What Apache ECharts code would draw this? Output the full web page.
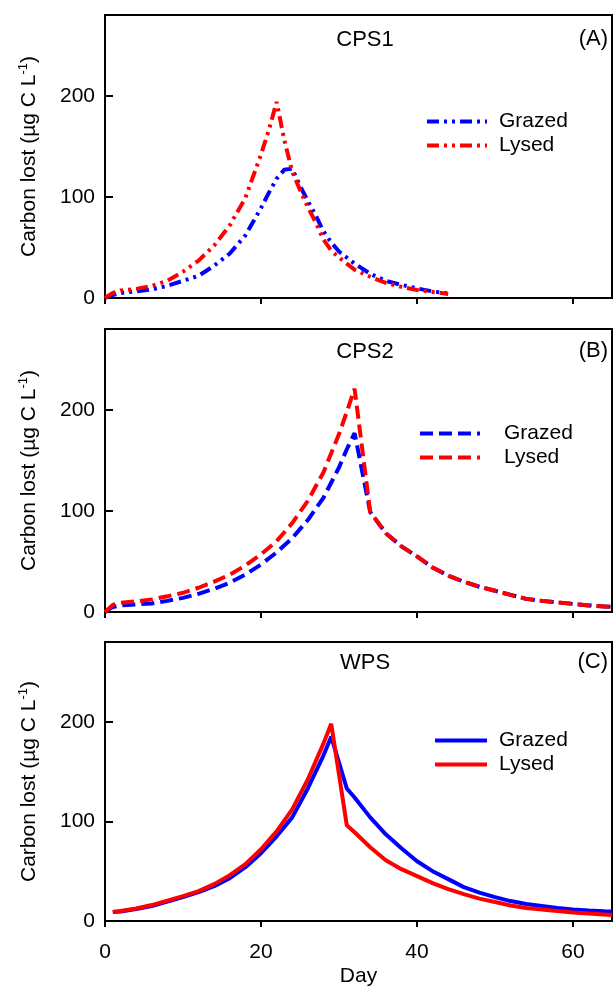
<!DOCTYPE html>
<html>
<head>
<meta charset="utf-8">
<script src="https://cdn.jsdelivr.net/npm/echarts@6/dist/echarts.min.js"></script>
<style>
html,body{margin:0;padding:0;background:#fff;}
#chart{width:614px;height:988px;}
</style>
</head>
<body>
<div id="chart"></div>
<script>
// panel A (CPS1) - dash-dot-dot
var daysA = [0, 1, 2, 4, 6, 8, 10, 12, 14, 16, 18, 20, 21, 22, 23, 24, 25, 26, 27, 28, 29, 30, 32, 34, 36, 38, 40, 42, 44];
var grazedA = [0, 3, 5, 6.5, 8.5, 12, 17, 22, 32, 44, 62, 89, 104, 118, 127, 128, 111, 96, 82, 66, 55, 46, 34, 24, 17, 13, 9.5, 6.5, 4.5];
var lysedA = [0, 5, 7.5, 9, 12, 17, 26, 37, 52, 72, 99, 142, 166, 194, 156, 125, 107, 90, 75, 58, 47, 40, 28, 21, 15, 11, 8, 6, 4];

// panel B (CPS2) - dashed
var daysB = [0, 1, 2, 4, 6, 8, 10, 12, 14, 16, 18, 20, 22, 24, 26, 28, 30, 31, 32, 33, 34, 36, 38, 40, 42, 44, 46, 48, 50, 52, 54, 56, 58, 60, 62, 64, 65];
var grazedB = [0, 5, 6.5, 7.5, 8.5, 11, 14, 18, 23, 29, 37, 47, 59, 73, 91, 113, 143, 161, 177, 138, 99, 78, 65, 55, 44, 36, 30, 25, 21, 17, 13, 11, 9.5, 8, 6.5, 5.5, 5];
var lysedB = [0, 7, 9, 10.5, 12.5, 15.5, 19, 24, 30, 37, 46, 57, 70, 88, 110, 138, 176, 198, 221, 160, 99, 78, 65, 55, 44, 36, 30, 25, 21, 17, 13, 11, 9.5, 8, 6.5, 5.5, 5];

// panel C (WPS) - solid
var daysC = [1, 2, 4, 6, 8, 10, 12, 14, 16, 18, 20, 22, 24, 26, 28, 29, 31, 32, 34, 36, 38, 40, 42, 44, 46, 48, 50, 52, 54, 56, 58, 60, 62, 64, 65];
var grazedC = [9, 9.5, 12, 15, 19.5, 24, 29, 35, 43, 54, 68, 85, 104, 133, 166, 185, 133, 124, 104, 87, 73, 60, 50, 42, 34, 28.5, 24, 20, 17, 15, 13, 11.5, 10.5, 9.8, 9.5];
var lysedC = [9, 10, 12.5, 16, 20.5, 25, 30, 37, 46, 57, 72, 90, 112, 142, 178, 198, 96, 89, 74, 61, 52, 45, 38, 32, 27, 22.5, 19, 15.5, 13, 11.5, 10, 8.5, 7.5, 6.5, 6];

var xTicks = [0, 20, 40, 60];
var yTicks = [0, 100, 200];
var panelNames = ['CPS1', 'CPS2', 'WPS'];
var panelTags = ['(A)', '(B)', '(C)'];

var font = 'Liberation Sans, Arial, sans-serif';
var FS = 21;
var BLUE = '#0000ff', RED = '#ff0000';

function pairs(days, vals) {
    return days.map(function (d, i) { return [d, vals[i]]; });
}

var gridTops = [15, 329, 642];
var gridH = [283, 283, 281];

var grids = [], xAxes = [], yAxes = [], legends = [], series = [], texts = [];
var dashes = [[12, 5, 3, 5, 3, 5], [13, 6], 'solid'];
var panels = [
    [daysA, grazedA, lysedA],
    [daysB, grazedB, lysedB],
    [daysC, grazedC, lysedC]
];
var legendPos = [
    {left: 425, top: 111, itemWidth: 60, gap: 12},
    {left: 418, top: 423, itemWidth: 60, gap: 24},
    {left: 433, top: 730, itemWidth: 52, gap: 12}
];

for (var i = 0; i < 3; i++) {
    grids.push({
        left: 105, top: gridTops[i], width: 507, height: gridH[i],
        show: true, borderColor: '#000', borderWidth: 2, backgroundColor: 'transparent'
    });
    xAxes.push({
        type: 'value', gridIndex: i, min: 0, max: 65, interval: 20,
        axisLine: {show: true, onZero: false, lineStyle: {color: '#000', width: 2}},
        axisTick: {show: true, inside: false, length: 6, lineStyle: {color: '#000', width: 2}, customValues: xTicks},
        axisLabel: {show: i === 2, customValues: xTicks, color: '#000', fontSize: FS, fontFamily: font, margin: 21},
        splitLine: {show: false},
        name: i === 2 ? 'Day' : '', nameLocation: 'middle', nameGap: 45,
        nameTextStyle: {color: '#000', fontSize: FS, fontFamily: font}
    });
    yAxes.push({
        type: 'value', gridIndex: i, min: 0, max: 280, interval: 100,
        axisLine: {show: true, lineStyle: {color: '#000', width: 2}},
        axisTick: {show: true, inside: true, length: 8, lineStyle: {color: '#000', width: 2}, customValues: yTicks},
        axisLabel: {customValues: yTicks, color: '#000', fontSize: FS, fontFamily: font, margin: 10},
        splitLine: {show: false},
        name: '{t|Carbon lost (µg C L}{s|-1}{t|)}',
        nameLocation: 'middle', nameGap: 64,
        nameTextStyle: {
            color: '#000', fontSize: FS, fontFamily: font,
            rich: {
                t: {fontSize: FS, fontFamily: font, color: '#000', lineHeight: 24},
                s: {fontSize: 13, fontFamily: font, color: '#000', verticalAlign: 'top', lineHeight: 13}
            }
        }
    });
    var lp = legendPos[i];
    legends.push({
        orient: 'vertical', left: lp.left, top: lp.top, padding: 0,
        itemWidth: lp.itemWidth, itemHeight: 14, itemGap: 3,
        data: ['Grazed|' + i, 'Lysed|' + i],
        formatter: function (n) { return n.split('|')[0]; },
        itemStyle: {opacity: 0},
        lineStyle: {width: 4},
        textStyle: {color: '#000', fontSize: FS, fontFamily: font, padding: [0, 0, 0, lp.gap - 5]},
        selectedMode: false
    });
    var p = panels[i];
    var names = ['Grazed|' + i, 'Lysed|' + i];
    var cols = [BLUE, RED];
    for (var k = 0; k < 2; k++) {
        series.push({
            name: names[k], type: 'line', xAxisIndex: i, yAxisIndex: i,
            data: pairs(p[0], p[k + 1]),
            showSymbol: false, symbol: 'none', smooth: false,
            color: cols[k],
            lineStyle: {color: cols[k], width: 4, type: dashes[i], cap: 'butt'},
            animation: false
        });
    }
}

var titleY = [40, 352, 663];
for (var j = 0; j < 3; j++) {
    texts.push({
        type: 'text', x: 365, y: titleY[j],
        style: {text: panelNames[j], font: '22px ' + font, fill: '#000', align: 'center', verticalAlign: 'middle'}
    });
    texts.push({
        type: 'text', x: 608, y: titleY[j] - 1,
        style: {text: panelTags[j], font: '22px ' + font, fill: '#000', align: 'right', verticalAlign: 'middle'}
    });
}

var chart = echarts.init(document.getElementById('chart'));
chart.setOption({
    backgroundColor: '#fff',
    animation: false,
    grid: grids,
    xAxis: xAxes,
    yAxis: yAxes,
    legend: legends,
    series: series,
    graphic: texts
});
</script>
</body>
</html>
